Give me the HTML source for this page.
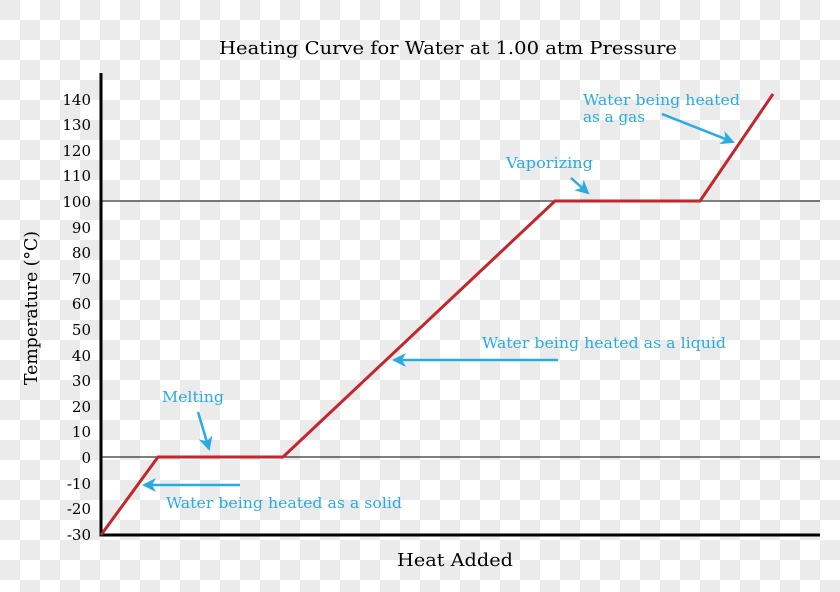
<!DOCTYPE html>
<html><head><style>
html,body{margin:0;padding:0;width:840px;height:592px;overflow:hidden;}
body{background-color:#fff;background-image:conic-gradient(#fff 25%,#ebebeb 0 50%,#fff 0 75%,#ebebeb 0);background-size:40px 40px;}
</style></head><body>
<svg width="840" height="592" xmlns="http://www.w3.org/2000/svg" style="position:absolute;left:0;top:0">
<defs><marker id="a" markerWidth="14" markerHeight="14" refX="12" refY="7" orient="auto" markerUnits="userSpaceOnUse"><path d="M0,0 L14,7 L0,14 L4,7z" fill="#29abe2"/></marker></defs>
<g font-family="DejaVu Serif, serif" fill="#000">
<text x="219" y="54" font-size="18" textLength="458" lengthAdjust="spacingAndGlyphs">Heating Curve for Water at 1.00 atm Pressure</text>
<text x="397" y="566" font-size="18" textLength="116" lengthAdjust="spacingAndGlyphs">Heat Added</text>
<text transform="translate(37,308) rotate(-90)" font-size="18" text-anchor="middle" textLength="154" lengthAdjust="spacingAndGlyphs">Temperature (°C)</text>
<g font-size="15" text-anchor="end">
<text x="91" y="105">140</text><text x="91" y="130">130</text><text x="91" y="156">120</text><text x="91" y="181">110</text><text x="91" y="207">100</text><text x="91" y="233">90</text><text x="91" y="258">80</text><text x="91" y="284">70</text><text x="91" y="309">60</text><text x="91" y="335">50</text><text x="91" y="361">40</text><text x="91" y="386">30</text><text x="91" y="412">20</text><text x="91" y="437">10</text><text x="91" y="463">0</text><text x="91" y="489">-10</text><text x="91" y="514">-20</text><text x="91" y="540">-30</text>
</g></g>
<line x1="101" y1="457" x2="820" y2="457" stroke="#000" stroke-width="1"/>
<line x1="101" y1="201" x2="820" y2="201" stroke="#000" stroke-width="1"/>
<polyline points="101,73 101,535 820,535" fill="none" stroke="#000" stroke-width="3"/>
<polyline points="101,535 158,457 283,457 555,201 700,201 773,94" fill="none" stroke="#c1272d" stroke-width="3"/>
<g fill="#29abe2" font-family="DejaVu Serif, serif" font-size="15">
<text x="162" y="402" textLength="62" lengthAdjust="spacingAndGlyphs">Melting</text>
<text x="166" y="508" textLength="236" lengthAdjust="spacingAndGlyphs">Water being heated as a solid</text>
<text x="482" y="348" textLength="244" lengthAdjust="spacingAndGlyphs">Water being heated as a liquid</text>
<text x="506" y="168" textLength="87" lengthAdjust="spacingAndGlyphs">Vaporizing</text>
<text x="583" y="105" textLength="157" lengthAdjust="spacingAndGlyphs">Water being heated</text>
<text x="583" y="122" textLength="62" lengthAdjust="spacingAndGlyphs">as a gas</text>
</g>
<g stroke="#29abe2" stroke-width="2.5" marker-end="url(#a)">
<line x1="198" y1="412" x2="209" y2="449"/>
<line x1="240" y1="485" x2="144" y2="485"/>
<line x1="558" y1="360" x2="394" y2="360"/>
<line x1="571" y1="178" x2="588" y2="193"/>
<line x1="662" y1="114" x2="733" y2="142"/>
</g>
</svg>
</body></html>
